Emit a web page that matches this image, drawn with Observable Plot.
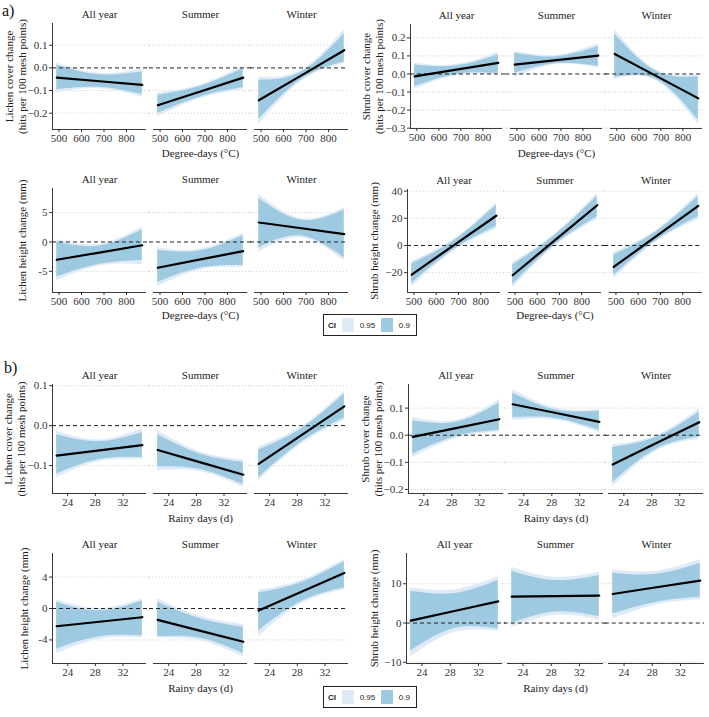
<!DOCTYPE html>
<html>
<head>
<meta charset="utf-8">
<script src="https://cdn.jsdelivr.net/npm/d3@7"></script>
<script src="https://cdn.jsdelivr.net/npm/@observablehq/plot@0.6"></script>
<style>
  html, body { margin: 0; padding: 0; background: #fff; }
  #fig { position: relative; width: 709px; height: 717px; overflow: hidden; font-family: "Liberation Serif", "DejaVu Serif", serif; }
  .tag { position: absolute; font: 16px "Liberation Serif", serif; color: #111; line-height: 1; }
  .legend { position: absolute; box-sizing: border-box; height: 22px; border: 1px solid #222; background: #fff;
            display: flex; align-items: center; font: 8px "Liberation Sans", Arial, sans-serif; color: #222; padding-left: 4px; }
  .legend b { font-weight: bold; margin-right: 6px; }
  .legend .sw { display: inline-block; width: 13px; height: 14px; margin-right: 6px; }
  .legend .lab { margin-right: 6px; }
</style>
</head>
<body>
<div id="fig"></div>
<script>
// Facets and x positions (start, middle, end of each fitted range)
const seasons = ["All year", "Summer", "Winter"];
const degreeDays = [490, 680, 870];
const rainyDays = [22.4, 28.6, 34.8];
const degreeDayTicks = [500, 600, 700, 800];
const rainyDayTicks = [24, 28, 32];
const ciLevels = ["0.95", "0.9"];
const ciColors = ["#deebf7", "#9ecae1"];

// Rows: [fit, low 95%, low 90%, high 90%, high 95%]; three x positions per season
const lichenCoverDD = [
  [-0.043, -0.110, -0.096,  0.012,  0.022],
  [-0.059, -0.092, -0.086, -0.030, -0.024],
  [-0.075, -0.128, -0.118, -0.018, -0.006],
  [-0.165, -0.216, -0.201, -0.121, -0.110],
  [-0.104, -0.135, -0.128, -0.081, -0.075],
  [-0.043, -0.096, -0.087, -0.003,  0.010],
  [-0.143, -0.249, -0.228, -0.054, -0.040],
  [-0.033, -0.059, -0.051, -0.018, -0.010],
  [ 0.078,  0.019,  0.026,  0.151,  0.169]
];
const shrubCoverDD = [
  [-0.013, -0.085, -0.070,  0.050,  0.059],
  [ 0.024, -0.010, -0.003,  0.045,  0.052],
  [ 0.061, -0.004,  0.004,  0.107,  0.120],
  [ 0.052, -0.019,  0.004,  0.115,  0.126],
  [ 0.077,  0.052,  0.058,  0.096,  0.103],
  [ 0.102,  0.033,  0.043,  0.152,  0.167],
  [ 0.111, -0.030, -0.019,  0.222,  0.244],
  [-0.012, -0.038, -0.031,  0.015,  0.022],
  [-0.135, -0.281, -0.256, -0.015, -0.004]
];
const lichenHeightDD = [
  [-3.03, -6.63, -5.96,  0.00,  0.39],
  [-1.80, -4.10, -3.80, -0.70, -0.40],
  [-0.56, -3.82, -3.15,  2.08,  2.53],
  [-4.38, -7.58, -6.90, -1.40, -1.01],
  [-2.97, -4.75, -4.45, -1.50, -1.20],
  [-1.57, -4.38, -3.99,  1.12,  1.52],
  [ 3.31, -1.74, -1.01,  7.42,  8.15],
  [ 2.33,  0.70,  1.00,  3.70,  4.00],
  [ 1.35, -3.26, -2.70,  5.45,  5.84]
];
const shrubHeightDD = [
  [-21.4, -30.4, -27.9, -13.4, -11.7],
  [  0.3,  -4.0,  -3.0,   3.5,   4.5],
  [ 21.9,  11.9,  13.9,  29.6,  31.3],
  [-21.9, -31.1, -28.7, -14.3, -12.4],
  [  3.9,  -0.5,   0.5,   7.5,   8.5],
  [ 29.6,  19.2,  21.1,  36.5,  38.2],
  [-15.8, -24.5, -22.1,  -7.0,  -5.1],
  [  6.7,   2.5,   3.5,  10.0,  11.0],
  [ 29.2,  19.2,  21.1,  36.2,  38.2]
];
const lichenCoverRD = [
  [-0.075, -0.130, -0.121, -0.023, -0.014],
  [-0.062, -0.090, -0.085, -0.040, -0.036],
  [-0.049, -0.085, -0.080, -0.017, -0.008],
  [-0.061, -0.113, -0.103, -0.023, -0.013],
  [-0.092, -0.115, -0.110, -0.072, -0.066],
  [-0.123, -0.155, -0.148, -0.092, -0.086],
  [-0.096, -0.138, -0.130, -0.061, -0.053],
  [-0.024, -0.046, -0.041, -0.008, -0.003],
  [ 0.048,  0.013,  0.019,  0.079,  0.086]
];
const shrubCoverRD = [
  [-0.006, -0.082, -0.070,  0.053,  0.065],
  [ 0.026, -0.012, -0.005,  0.048,  0.055],
  [ 0.059,  0.012,  0.018,  0.119,  0.131],
  [ 0.114,  0.055,  0.065,  0.155,  0.168],
  [ 0.082,  0.056,  0.062,  0.093,  0.100],
  [ 0.049,  0.009,  0.018,  0.089,  0.094],
  [-0.108, -0.190, -0.175, -0.045, -0.034],
  [-0.030, -0.060, -0.053, -0.008, -0.002],
  [ 0.048, -0.016, -0.006,  0.086,  0.098]
];
const lichenHeightRD = [
  [-2.26, -5.73, -5.17,  0.81,  1.11],
  [-1.69, -3.90, -3.60, -0.30,  0.00],
  [-1.11, -3.76, -3.46,  0.94,  1.24],
  [-1.45, -3.76, -3.59,  0.81,  1.24],
  [-2.84, -4.10, -3.80, -1.30, -1.00],
  [-4.23, -6.15, -5.73, -2.39, -2.05],
  [-0.26, -3.59, -2.82,  1.97,  2.31],
  [ 2.14,  0.60,  0.90,  3.30,  3.60],
  [ 4.53,  2.39,  2.65,  5.94,  6.24]
];
const shrubHeightRD = [
  [ 0.6, -8.6, -7.1,  8.1,  8.9],
  [3.07, -2.4, -1.4,  7.5,  8.5],
  [5.53, -2.1, -1.5, 10.8, 11.7],
  [6.72, -1.1, -0.1, 13.2, 14.2],
  [6.85,  2.0,  2.8, 10.8, 11.6],
  [6.98,  0.8,  1.6, 12.1, 12.9],
  [ 7.4,  1.0,  2.3, 12.7, 13.5],
  [ 9.1,  4.6,  5.3, 12.4, 13.2],
  [10.8,  5.9,  6.6, 15.2, 16.1]
];

const fig = document.getElementById("fig");

function rowsOf(values, xs) {
  return values.map((v, i) => ({
    season: seasons[Math.floor(i / 3)], x: xs[i % 3],
    fit: v[0], lo95: v[1], lo90: v[2], hi90: v[3], hi95: v[4]
  }));
}

// signed tick labels use a true minus sign
const minus = s => s.replace(/^-/, "\u2212");
const fmt1 = d => minus(d.toFixed(1));
const fmtInt = d => minus(String(d));
const fmtPlain = d => String(d);

function facetPanel(o) {
  const rows = rowsOf(o.values, o.xs);
  const mt = 28, mb = 40;
  const width = o.right + 4 - o.left;
  const height = (o.bottom - o.top) + mt + mb;
  const g = o.gap;
  const span = o.right - o.axis;
  const p = 3 * g / (span + g);
  const x0 = o.xDomain[0], y0 = o.yDomain[0];

  // horizontal reference lines run through the gaps between facets
  const across = (ys, style) => seasons.map((s, k) => Plot.ruleY(
    ys.map(y => ({season: s, y})),
    {fx: "season", y: "y",
     insetLeft: k === 0 ? 0 : -g / 2 - 0.5,
     insetRight: k === 2 ? 0 : -g / 2 - 0.5, ...style}));

  const svg = Plot.plot({
    width, height,
    marginLeft: o.axis - o.left,
    marginRight: width - (o.right - o.left),
    marginTop: mt, marginBottom: mb,
    style: {fontFamily: '"Liberation Serif", serif', fontSize: "11px", color: "#333",
            background: "transparent", overflow: "visible", maxWidth: "none"},
    fx: {domain: seasons, paddingInner: p, paddingOuter: 0, axis: null, label: null},
    x: {domain: o.xDomain, ticks: o.xTicks, tickSize: 3, tickPadding: 1.5, tickFormat: fmtPlain, label: null},
    y: {domain: o.yDomain, ticks: o.yTicks, tickSize: 3, tickPadding: 2, tickFormat: o.yFormat, label: null},
    marks: [
      ...across(o.yTicks.filter(d => d !== 0), {stroke: "#c4c4c4", strokeWidth: 0.9, strokeDasharray: "1,2.2"}),
      Plot.areaY(rows, {fx: "season", x: "x", y1: "lo95", y2: "hi95", fill: ciColors[0], curve: "natural"}),
      Plot.areaY(rows, {fx: "season", x: "x", y1: "lo90", y2: "hi90", fill: ciColors[1], curve: "natural"}),
      ...across([0], {stroke: "#222", strokeWidth: 1, strokeDasharray: "4,3"}),
      Plot.lineY(rows, {fx: "season", x: "x", y: "fit", stroke: "#000", strokeWidth: 2.2}),
      Plot.ruleY([y0], {stroke: "#222", strokeWidth: 0.9}),
      Plot.ruleX([x0], {x: d => d, fx: () => seasons[0], stroke: "#222", strokeWidth: 0.9}),
      Plot.text(seasons, {fx: d => d, text: d => d, frameAnchor: "top", dy: -9,
                          lineAnchor: "middle", fill: "#222", fontSize: 11}),
      Plot.text([seasons[1]], {fx: d => d, text: () => o.xTitle, frameAnchor: "bottom", dy: o.xTitleDy,
                               lineAnchor: "middle", fill: "#222", fontSize: 11}),
      Plot.text([seasons[0]], {fx: d => d, text: () => o.yTitle, frameAnchor: "left", rotate: -90,
                               dx: o.yTitleDx, textAnchor: "middle", lineAnchor: "middle",
                               lineHeight: 1.12, fill: "#222", fontSize: 11})
    ]
  });
  svg.style.position = "absolute";
  svg.style.left = o.left + "px";
  svg.style.top = (o.top - mt) + "px";
  fig.appendChild(svg);
}

const dd = {xs: degreeDays, xDomain: [471, 889], xTicks: degreeDayTicks, xTitle: "Degree-days (°C)"};
const rd = {xs: rainyDays, xDomain: [21.8, 35.4], xTicks: rainyDayTicks, xTitle: "Rainy days (d)"};
const coverTitle = (w) => `${w} cover change\n(hits per 100 mesh points)`;

// a) degree-days
facetPanel({...dd, values: lichenCoverDD, yDomain: [-0.272, 0.196], yTicks: [-0.2, -0.1, 0, 0.1], yFormat: fmt1,
  yTitle: coverTitle("Lichen"), yTitleDx: -37,
  left: 0, axis: 52, right: 349, top: 23, bottom: 129, gap: 7, xTitleDy: 24});
facetPanel({...dd, values: shrubCoverDD, yDomain: [-0.302, 0.274], yTicks: [-0.3, -0.2, -0.1, 0, 0.1, 0.2], yFormat: fmt1,
  yTitle: coverTitle("Shrub"), yTitleDx: -38,
  left: 352, axis: 409, right: 703, top: 24, bottom: 128, gap: 8.5, xTitleDy: 25});
facetPanel({...dd, values: lichenHeightDD, yDomain: [-8.6, 9.1], yTicks: [-5, 0, 5], yFormat: fmtPlain,
  yTitle: "Lichen height change (mm)", yTitleDx: -30,
  left: 0, axis: 52, right: 349, top: 188, bottom: 292, gap: 7, xTitleDy: 23});
facetPanel({...dd, values: shrubHeightDD, yDomain: [-34.6, 41.2], yTicks: [-20, 0, 20, 40], yFormat: fmtInt,
  yTitle: "Shrub height change (mm)", yTitleDx: -33,
  left: 352, axis: 406, right: 703, top: 189, bottom: 292, gap: 8.5, xTitleDy: 23});

// b) rainy days
facetPanel({...rd, values: lichenCoverRD, yDomain: [-0.170, 0.103], yTicks: [-0.1, 0, 0.1], yFormat: fmt1,
  yTitle: coverTitle("Lichen"), yTitleDx: -38,
  left: 0, axis: 52, right: 349, top: 384, bottom: 493, gap: 7, xTitleDy: 25});
facetPanel({...rd, values: shrubCoverRD, yDomain: [-0.215, 0.187], yTicks: [-0.2, -0.1, 0, 0.1], yFormat: fmt1,
  yTitle: coverTitle("Shrub"), yTitleDx: -37,
  left: 352, axis: 408, right: 704, top: 384, bottom: 493, gap: 5, xTitleDy: 25});
facetPanel({...rd, values: lichenHeightRD, yDomain: [-7.0, 7.0], yTicks: [-4, 0, 4], yFormat: fmtPlain,
  yTitle: "Lichen height change (mm)", yTitleDx: -28,
  left: 0, axis: 52, right: 349, top: 553, bottom: 663, gap: 7, xTitleDy: 25});
facetPanel({...rd, values: shrubHeightRD, yDomain: [-10.3, 17.7], yTicks: [-10, 0, 10], yFormat: fmtInt,
  yTitle: "Shrub height change (mm)", yTitleDx: -32,
  left: 352, axis: 405, right: 704, top: 553, bottom: 663, gap: 5.5, xTitleDy: 25});

// section tags
function tag(text, left, top) {
  const el = document.createElement("div");
  el.className = "tag"; el.textContent = text;
  el.style.left = left + "px"; el.style.top = top + "px";
  fig.appendChild(el);
}
tag("a)", 2, 3);
tag("b)", 4, 360);

// CI legends
function legend(left, top) {
  const el = document.createElement("div");
  el.className = "legend";
  el.style.left = left + "px"; el.style.top = top + "px"; el.style.width = "94px";
  const t = document.createElement("b"); t.textContent = "CI"; el.appendChild(t);
  ciLevels.forEach((lv, i) => {
    const sw = document.createElement("span"); sw.className = "sw"; sw.style.background = ciColors[i];
    const lb = document.createElement("span"); lb.className = "lab"; lb.textContent = lv;
    el.appendChild(sw); el.appendChild(lb);
  });
  fig.appendChild(el);
}
legend(323, 314);
legend(323, 686);
</script>
</body>
</html>
